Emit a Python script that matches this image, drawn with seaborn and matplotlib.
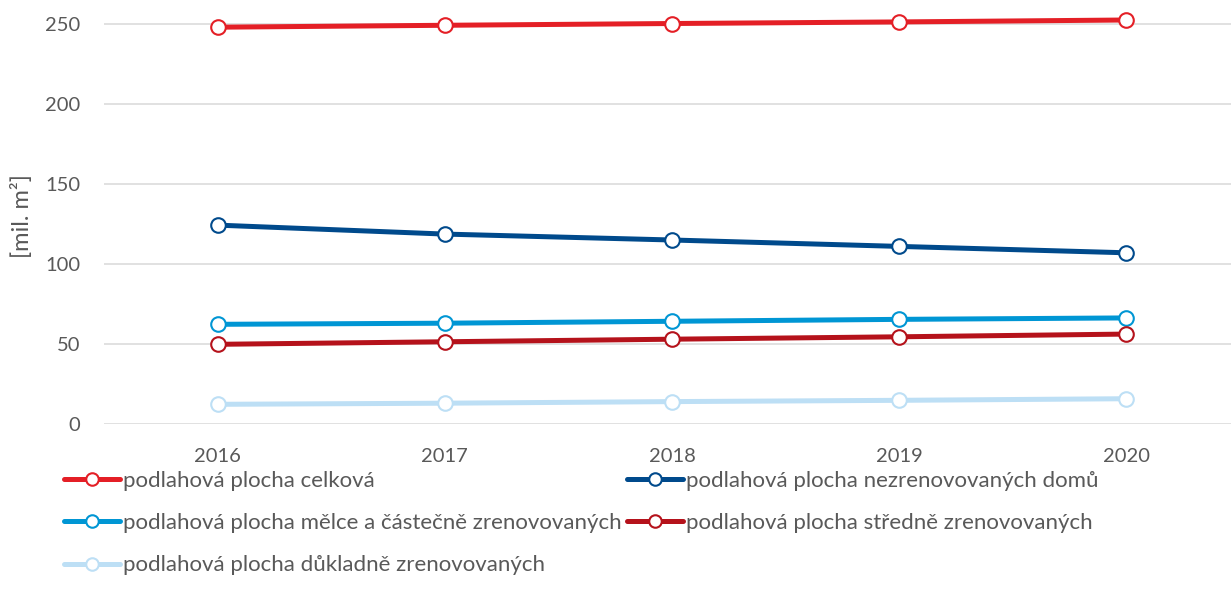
import matplotlib
matplotlib.use("Agg")
import matplotlib.pyplot as plt
import seaborn as sns
import pandas as pd
from matplotlib.lines import Line2D

years = [2016, 2017, 2018, 2019, 2020]
celkova = [248.0, 249.2, 250.3, 251.3, 252.5]
nezrenovovane = [124.3, 118.7, 115.0, 111.0, 107.0]
melce = [62.3, 63.0, 64.2, 65.4, 66.3]
stredne = [49.8, 51.4, 53.0, 54.5, 56.2]
dukladne = [12.3, 13.0, 14.0, 14.8, 15.8]

labels = [
    "podlahová plocha celková",
    "podlahová plocha nezrenovovaných domů",
    "podlahová plocha mělce a částečně zrenovovaných",
    "podlahová plocha středně zrenovovaných",
    "podlahová plocha důkladně zrenovovaných",
]
colors = ["#E41F26", "#004A8C", "#0096D4", "#B5121B", "#BDDFF5"]
series = [celkova, nezrenovovane, melce, stredne, dukladne]

sns.set_theme(style="white")
plt.rcParams["font.family"] = ["Lato", "DejaVu Sans"]
text_color = "#595959"
fs = 14.5
fs_leg = 16

W, H = 1231, 607
fig = plt.figure(figsize=(W / 100, H / 100), dpi=100)
left, right = 104, 1240
bottom_px, top_px = 424, 4
ax = fig.add_axes([left / W, (H - bottom_px) / H, (right - left) / W, (bottom_px - top_px) / H])

handles = []
for lab, vals, col in zip(labels, series, colors):
    df = pd.DataFrame({"year": years, "value": vals})
    sns.lineplot(data=df, x="year", y="value", ax=ax, color=col, linewidth=3.6,
                 marker="o", markersize=10.5, markerfacecolor="white",
                 markeredgecolor=col, markeredgewidth=1.5, zorder=3)
    handles.append(Line2D([0], [0], color=col, linewidth=3.6, marker="o", markersize=9,
                          markerfacecolor="white", markeredgecolor=col, markeredgewidth=1.5))

ax.set_xlim(2015.5, 2020.5)
ax.set_ylim(0, 262.5)
ax.set_yticks([0, 50, 100, 150, 200, 250])
ax.set_xticks(years)
ax.set_xticklabels([str(y) for y in years])
ax.grid(axis="y", color="#D9D9D9", linewidth=1.1)
ax.grid(axis="x", visible=False)
for s in ax.spines.values():
    s.set_visible(False)
ax.tick_params(axis="y", length=0, pad=17, labelsize=fs, labelcolor=text_color)
ax.tick_params(axis="x", length=0, pad=17, labelsize=fs, labelcolor=text_color)
ax.set_xlabel("")
ax.set_ylabel("")
fig.text(22 / W, (H - 216) / H, "[mil. m²]", rotation=90, ha="center", va="center",
         fontsize=17, color=text_color)

leg_kw = dict(frameon=False, fontsize=fs_leg, handlelength=2.5, handletextpad=0.15,
              labelspacing=1.0, borderpad=0, borderaxespad=0, labelcolor=text_color)
leg1 = fig.legend([handles[0], handles[2], handles[4]], [labels[0], labels[2], labels[4]],
                  loc="upper left", bbox_to_anchor=(64 / W, (H - 471) / H), **leg_kw)
leg2 = fig.legend([handles[1], handles[3]], [labels[1], labels[3]],
                  loc="upper left", bbox_to_anchor=(627 / W, (H - 471) / H), **leg_kw)

fig.savefig("out.png", dpi=100)
